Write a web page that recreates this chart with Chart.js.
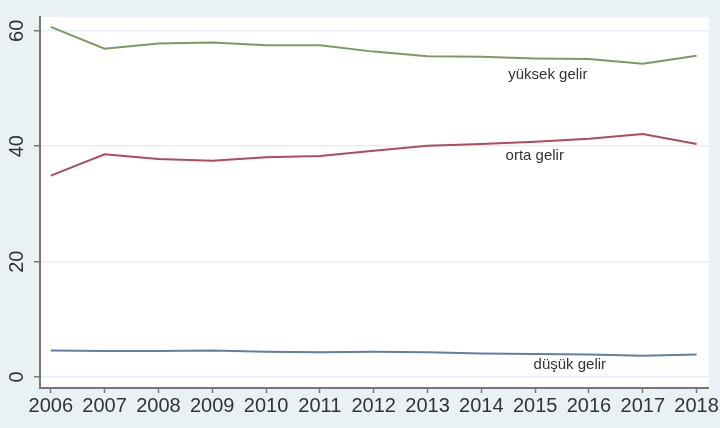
<!DOCTYPE html>
<html>
<head>
<meta charset="utf-8">
<script src="https://cdn.jsdelivr.net/npm/chart.js@4"></script>
<style>
  html, body { margin: 0; padding: 0; background: #eaf1f5; }
  #wrap { width: 720px; height: 428px; }
</style>
</head>
<body>
<div id="wrap"><canvas id="incomeChart" width="720" height="428"></canvas></div>
<script>
// years and shares
const years = [2006, 2007, 2008, 2009, 2010, 2011, 2012, 2013, 2014, 2015, 2016, 2017, 2018];
const yuksekGelir = [60.7, 56.9, 57.8, 58.0, 57.5, 57.5, 56.4, 55.6, 55.5, 55.2, 55.1, 54.3, 55.7];
const ortaGelir = [34.9, 38.6, 37.8, 37.5, 38.1, 38.3, 39.2, 40.1, 40.4, 40.8, 41.3, 42.1, 40.4];
const dusukGelir = [4.6, 4.5, 4.5, 4.6, 4.4, 4.3, 4.4, 4.3, 4.1, 4.0, 3.9, 3.7, 3.9];
const yTicks = [0, 20, 40, 60];

const seriesNames = ["yüksek gelir", "orta gelir", "düşük gelir"];
// where each series' text label starts (data coordinates)
const labelSpots = [[2014.5, 52.3], [2014.45, 38.3], [2014.97, 2.1]];

const toPoints = arr => arr.map((v, i) => ({ x: years[i], y: v }));
const fontFamily = "'Liberation Sans', Arial, sans-serif";

// background: light frame, white plot region
const bgPlugin = {
    id: "bg",
    beforeDraw(chart) {
        const { ctx, chartArea: a } = chart;
        ctx.save();
        ctx.fillStyle = "#eaf1f5";
        ctx.fillRect(0, 0, chart.width, chart.height);
        ctx.fillStyle = "#ffffff";
        ctx.fillRect(a.left, a.top, a.right - a.left, a.bottom - a.top);
        ctx.restore();
    }
};

// text labels next to the lines
const lineLabels = {
    id: "lineLabels",
    afterDatasetsDraw(chart) {
        const { ctx, scales } = chart;
        ctx.save();
        ctx.font = "15px " + fontFamily;
        ctx.fillStyle = "#333333";
        ctx.textAlign = "left";
        ctx.textBaseline = "middle";
        seriesNames.forEach((name, i) => {
            ctx.fillText(name, scales.x.getPixelForValue(labelSpots[i][0]), scales.y.getPixelForValue(labelSpots[i][1]));
        });
        ctx.restore();
    }
};

const ctx = document.getElementById("incomeChart").getContext("2d");
new Chart(ctx, {
    type: "line",
    data: {
        datasets: [
            { label: seriesNames[0], data: toPoints(yuksekGelir), borderColor: "#7b9a5f" },
            { label: seriesNames[1], data: toPoints(ortaGelir), borderColor: "#b04a5c" },
            { label: seriesNames[2], data: toPoints(dusukGelir), borderColor: "#5f7fa3" }
        ]
    },
    options: {
        responsive: false,
        animation: false,
        layout: { padding: { top: 14, right: 8, left: 0, bottom: 0 } },
        elements: {
            point: { radius: 0 },
            line: { borderWidth: 2, tension: 0 }
        },
        plugins: {
            legend: { display: false },
            tooltip: { enabled: false }
        },
        scales: {
            x: {
                type: "linear",
                min: 2005.8,
                max: 2018.22,
                afterBuildTicks: scale => { scale.ticks = years.map(v => ({ value: v })); },
                afterFit: scale => { scale.height = 40; },
                grid: {
                    display: true,
                    drawOnChartArea: false,
                    drawTicks: true,
                    tickColor: "#777777",
                    tickLength: 5,
                    tickWidth: 1.5
                },
                border: { color: "#777777", width: 2 },
                ticks: {
                    color: "#333333",
                    font: { size: 20, family: fontFamily },
                    padding: 1,
                    maxRotation: 0,
                    autoSkip: false,
                    callback: v => String(v)
                }
            },
            y: {
                min: -1.9,
                max: 62.4,
                afterBuildTicks: scale => { scale.ticks = yTicks.map(v => ({ value: v })); },
                afterFit: scale => { scale.width = 40; },
                grid: {
                    color: "#e6eef2",
                    lineWidth: 1.5,
                    drawTicks: true,
                    tickColor: "#777777",
                    tickLength: 6,
                    tickWidth: 1.5
                },
                border: { color: "#777777", width: 2 },
                ticks: {
                    color: "#333333",
                    font: { size: 20, family: fontFamily },
                    minRotation: 90,
                    maxRotation: 90,
                    crossAlign: "center",
                    padding: 5
                }
            }
        }
    },
    plugins: [bgPlugin, lineLabels]
});
</script>
</body>
</html>
